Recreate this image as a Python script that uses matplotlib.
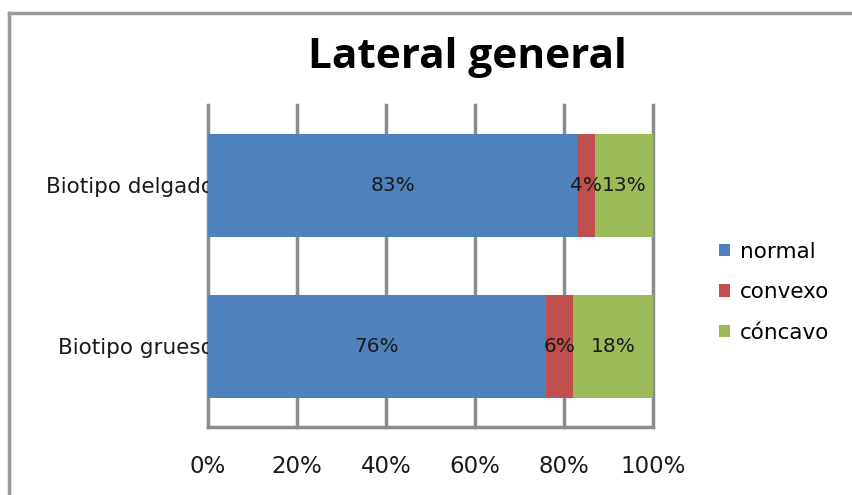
import matplotlib
matplotlib.use("Agg")
import matplotlib.pyplot as plt
import numpy as np
from matplotlib.lines import Line2D

categories = ["Biotipo grueso", "Biotipo delgado"]
series_names = ["normal", "convexo", "cóncavo"]
normal = [76, 83]
convexo = [6, 4]
concavo = [18, 13]
xtick_values = [0, 20, 40, 60, 80, 100]
xtick_labels = ["0%", "20%", "40%", "60%", "80%", "100%"]

colors = ["#4F81BD", "#C0504D", "#9BBB59"]
grid_color = "#8C8C8C"

fig = plt.figure(figsize=(8.52, 4.95), dpi=100)
ax = fig.add_axes([0.2441, 0.1374, 0.5223, 0.6505])

y = np.arange(len(categories))
left = np.zeros(len(categories))
for name, vals, col in zip(series_names, [normal, convexo, concavo], colors):
    vals = np.array(vals, dtype=float)
    ax.barh(y, vals, left=left, height=0.64, color=col, label=name, zorder=2)
    for yi, l, v in zip(y, left, vals):
        ax.text(l + v / 2.0, yi, "%d%%" % v, ha="center", va="center",
                fontsize=14.5, color="#1a1a1a", zorder=3)
    left = left + vals

ax.set_xlim(0, 100)
ax.set_ylim(-0.5, 1.5)
ax.set_xticks(xtick_values)
ax.set_xticklabels(xtick_labels, fontsize=16.5, color="#1a1a1a")
ax.set_yticks(y)
ax.set_yticklabels(categories, fontsize=15.5, color="#1a1a1a")
ax.tick_params(axis="x", length=0, pad=20)
ax.tick_params(axis="y", length=0, pad=-4)

for xv in xtick_values:
    ax.axvline(xv, color=grid_color, lw=2.5, zorder=1, clip_on=False)
for s in ["top", "right", "left"]:
    ax.spines[s].set_visible(False)
ax.spines["bottom"].set_color(grid_color)
ax.spines["bottom"].set_linewidth(2.5)

fig.text(0.549, 0.862, "Lateral general", ha="center", va="baseline",
         fontsize=30.5, fontweight="bold", family="Open Sans")

handles, labels = ax.get_legend_handles_labels()
leg = fig.legend(handles, labels, loc="center left", bbox_to_anchor=(0.831, 0.41),
                 frameon=False, fontsize=15.5, handlelength=0.5, handleheight=0.5,
                 handletextpad=0.5, labelspacing=0.95, borderpad=0)

# border of the chart area
fig.add_artist(Line2D([9 / 852, 1.0], [1 - 13 / 495, 1 - 13 / 495],
                      transform=fig.transFigure, color="#9a9a9a", lw=2.5))
fig.add_artist(Line2D([9 / 852, 9 / 852], [0, 1 - 13 / 495],
                      transform=fig.transFigure, color="#9a9a9a", lw=2.5))

fig.savefig("out.png", dpi=100)
